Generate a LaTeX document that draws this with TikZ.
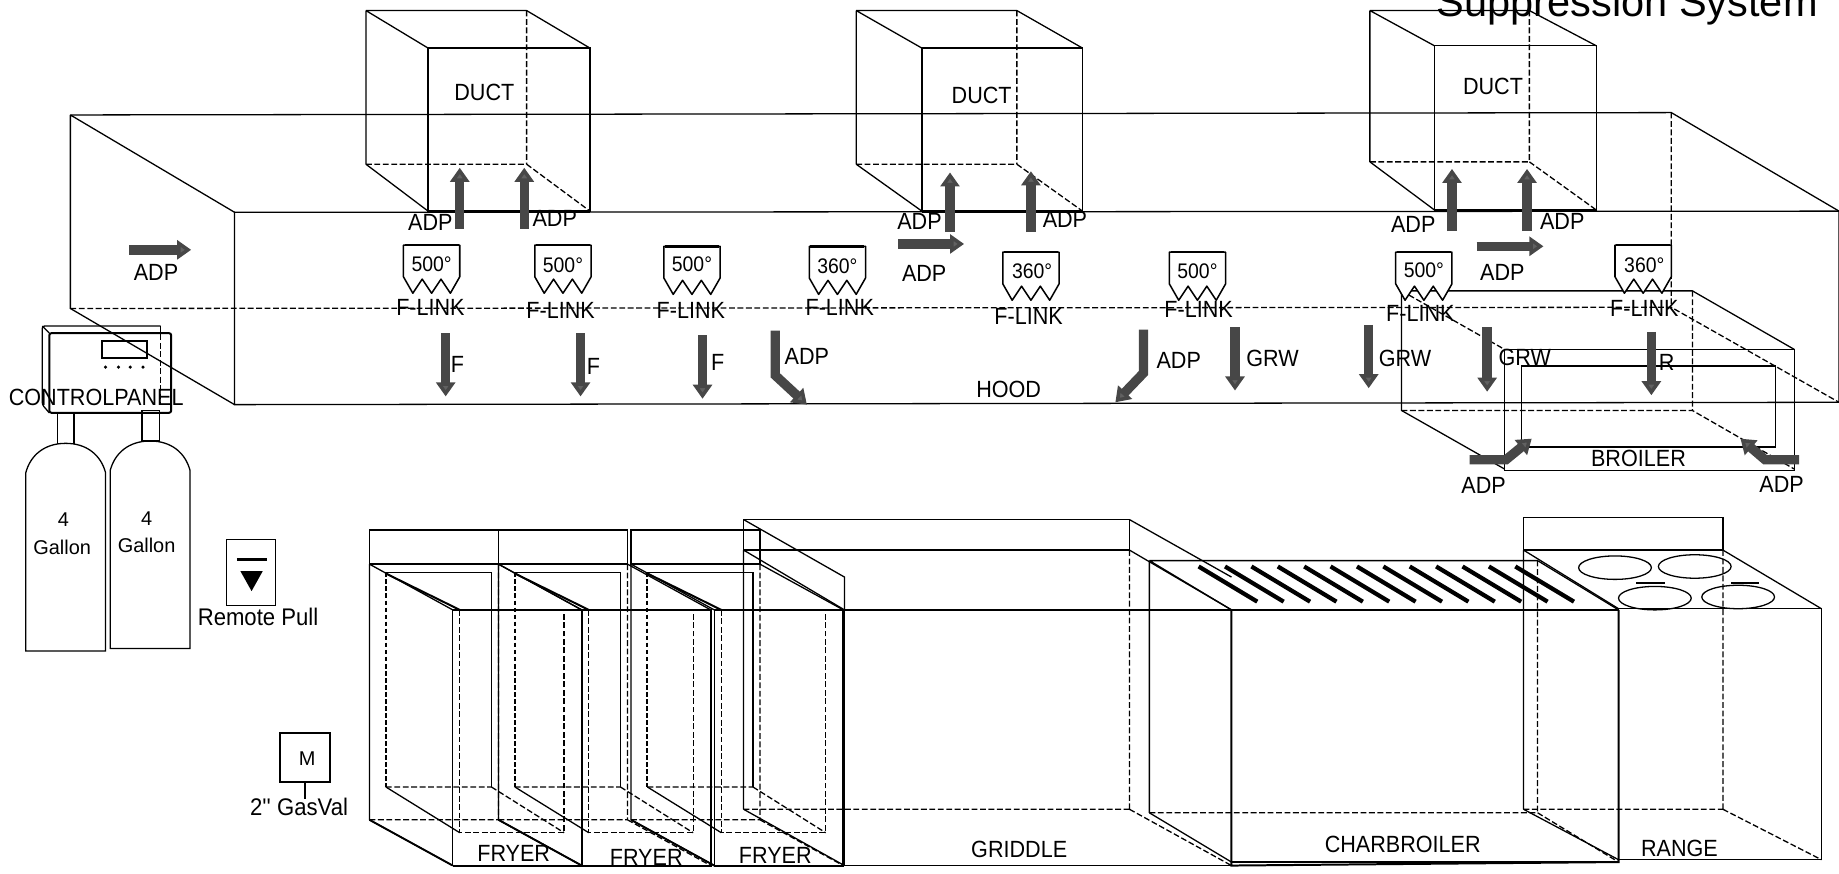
\documentclass[tikz,border=0pt]{standalone}
\usepackage{fontspec}
\usetikzlibrary{arrows.meta}
\setmainfont{Liberation Sans}
\newfontfamily\labfont[FakeStretch=0.92]{Liberation Sans}
\tikzset{
  thinline/.style={draw=black,line width=1.1pt},
  heavyline/.style={draw=black,line width=1.7pt},
  dashline/.style={draw=black,line width=1.1pt,dash pattern=on 5pt off 2.2pt},
  heavydash/.style={draw=black,line width=1.6pt,dash pattern=on 4pt off 2pt},
  flowarrow/.style={draw=black!72,line width=8pt,line join=miter,
    -{Triangle[width=16pt,length=12pt,fill=black!62]}},
  lbl/.style={inner sep=0pt,font=\labfont\fontsize{20}{20}\selectfont},
  smalllbl/.style={inner sep=0pt,font=\labfont\fontsize{20.5}{20.5}\selectfont},
  badge/.style={draw=black,line width=1.3pt,fill=white,line join=round}
}
\newcommand{\threebox}[8]{%
  \draw[thinline] (#1,#2) -- (#3,#2) (#1,#2) -- (#1,#4)
    (#1,#2) -- (#5,#6) (#3,#2) -- (#7,#6) (#1,#4) -- (#5,#8);
  \draw[thinline] (#5,#6) rectangle (#7,#8);
  \draw[dashline] (#3,#2) -- (#3,#4) (#1,#4) -- (#3,#4) (#3,#4) -- (#7,#8);
}
\newcommand{\linkbadge}[6]{%
  \pgfmathsetmacro{\bs}{#2+27}\pgfmathsetmacro{\bz}{#2+41}
  \pgfmathsetmacro{\bu}{#2+29}
  \draw[badge] (#1,#2) -- (#1+48,#2) -- (#1+48,\bs) -- (#1+40,\bz) -- (#1+32,\bu) -- (#1+24,\bz)
    -- (#1+16,\bu) -- (#1+8,\bz) -- (#1,\bs) -- cycle;
  \draw[line width=2.2pt] (#1+1,#2) -- (#1+47,#2);
  \node[lbl,font=\labfont\fontsize{18}{18}\selectfont] (temp#1) at (#3,#4) {\ifnum#1=690 360\else\ifnum#1=855 360\else\ifnum#1=1377 360\else 500\fi\fi\fi°};
  \node[lbl] (flink#1) at (#5,#6) {F-LINK};
}
\newcommand{\fryerunit}[1]{%
  \draw[thinline] (#1,452) rectangle (#1+110,481);
  \threebox{#1}{481}{#1+110}{699}{#1+71}{520}{#1+181}{738}
  \draw[thinline] (#1+14,488) -- (#1+104,488) -- (#1+104,671);
  \draw[heavydash] (#1+14,488) -- (#1+14,671);
  \draw[dashline] (#1+14,671) -- (#1+104,671) (#1+104,671) -- (#1+166,710);
  \draw[thinline] (#1+14,671) -- (#1+77,710);
  \draw[heavyline] (#1+14,489) -- (#1+77,520);
  \draw[dashline] (#1+77,520) -- (#1+77,710) -- (#1+166,710) -- (#1+166,520);
  \draw[heavyline] (#1+71,738) -- (#1+181,738) -- (#1+181,520) -- (#1+71,520);
  \draw[line width=1.6pt] (#1,699) -- (#1+71,738);
}
\begin{document}
\begin{tikzpicture}[x=1pt,y=-1pt]
\useasboundingbox (0,0) rectangle (1568,745);
\clip (0,0) rectangle (1568,745);
% title fragment
\node[inner sep=0pt,anchor=base west,font=\fontsize{35.4}{36}\selectfont] (title) at (1225,14) {Suppression System};
% hood
\draw[thinline] (60,98) -- (1425,96) -- (1568,180);
\draw[thinline] (60,98) -- (60,263) -- (200,345) (60,98) -- (200,181);
\draw[thinline] (200,181) -- (1568,180) -- (1568,343) -- (200,345) -- cycle;
\draw[dashline] (60,263) -- (1425,262) -- (1568,343) (1425,96) -- (1425,262);
% ducts
\threebox{312}{9}{449}{140}{365}{41}{503}{180}
\threebox{730}{9}{867}{140}{786}{41}{923}{180}
\threebox{1168}{9}{1304}{138}{1223}{39}{1361}{179}
\draw[line width=2.4pt] (365,180) -- (503,180) (786,180) -- (923,180) (1223,179) -- (1361,179);
\node[lbl] (duct1) at (413,79) {DUCT};
\node[lbl] (duct2) at (837,81) {DUCT};
\node[lbl] (duct3) at (1273,74) {DUCT};
% broiler
\draw[thinline] (1195,248) -- (1443,248) -- (1530,298) (1195,248) -- (1195,350) -- (1283,400);
\draw[dashline] (1195,248) -- (1283,298) (1443,248) -- (1443,350) (1195,350) -- (1443,350) -- (1530,400);
\draw[thinline] (1283,298) rectangle (1530,401);
\draw[thinline] (1297,312) rectangle (1514,381);
\node[lbl] (broiler) at (1397,391) {BROILER};
% badges
\linkbadge{344}{209}{368}{225}{367}{262}
\linkbadge{456}{209}{480}{226}{478}{265}
\linkbadge{566}{210}{590}{225}{589}{265}
\linkbadge{690}{210}{714}{227}{716}{262}
\linkbadge{855}{215}{880}{231}{877}{270}
\linkbadge{997}{215}{1021}{231}{1022}{264}
\linkbadge{1190}{215}{1214}{230}{1211}{267}
\linkbadge{1377}{209}{1402}{226}{1402}{263}
% arrows
\foreach \ax/\ay/\bx/\by in {392/195/392/143,447/195/447/143,810/198/810/147,879/198/879/146,1238/197/1238/144,1302/197/1302/144,
  110/213/163/213,766/208/822/208,1259/210/1316/210,
  380/284/380/338,495/284/495/338,599/286/599/340,1053/279/1053/333,1167/277/1167/331,1268/279/1268/334,1408/283/1408/337}
  \draw[flowarrow] (\ax,\ay) -- (\bx,\by);
\draw[flowarrow] (661,282) -- (661,320) -- (688,345);
\draw[flowarrow] (975,281) -- (975,318) -- (951,343);
\draw[flowarrow] (1253,392) -- (1284,392) -- (1306,374);
\draw[flowarrow] (1534,392) -- (1505,392) -- (1484,374);
% arrow labels
\foreach \n/\px/\py in {a/367/190,b/473/186,c/133/232,d/784/189,e/908/187,f/788/233,g/1205/191,h/1332/189,i/1281/232,j/1265/414,k/1519/413,l/688/304,m/1005/307}
  \node[lbl] (adp\n) at (\px,\py) {ADP};
\foreach \n/\px/\py in {a/390/311,b/506/312,c/612/309}
  \node[lbl] (fuse\n) at (\px,\py) {F};
\foreach \n/\px/\py in {a/1085/306,b/1198/306,c/1300/305}
  \node[lbl] (grw\n) at (\px,\py) {GRW};
\node[lbl] (rlabel) at (1421,309) {R};
\node[lbl] (hood) at (860,332) {HOOD};
% control panel
\draw[thinline,rounded corners=2pt] (137,278) -- (36,278) -- (36,345) -- (42,352);
\draw[thinline] (36,278) -- (42,284);
\draw[dashline] (137,278) -- (137,345);
\draw[heavyline,rounded corners=2pt] (42,284) rectangle (146,352);
\draw[heavyline] (87,291) rectangle (125,305);
\foreach \dx in {90,101,111,122} \fill (\dx,313) circle (1.5pt);
\node[lbl] (panel) at (82,339) {CONTROLPANEL};
% cylinders
\draw[thinline] (49,352) rectangle (63,378) (121,350) rectangle (136,376);
\draw[thinline] (22,555) -- (22,403) .. controls (26,388) and (38,378) .. (56,378) .. controls (74,378) and (86,388) .. (90,403) -- (90,555) -- cycle;
\draw[thinline] (94,553) -- (94,401) .. controls (98,386) and (110,376) .. (128,376) .. controls (146,376) and (158,386) .. (162,401) -- (162,553) -- cycle;
\node[inner sep=0pt,font=\fontsize{17}{17}\selectfont] (fourA) at (54,443) {4};
\node[inner sep=0pt,font=\fontsize{17}{17}\selectfont] (galA) at (53,467) {Gallon};
\node[inner sep=0pt,font=\fontsize{17}{17}\selectfont] (fourB) at (125,442) {4};
\node[inner sep=0pt,font=\fontsize{17}{17}\selectfont] (galB) at (125,465) {Gallon};
% remote pull
\draw[thinline] (193,460) rectangle (235,516);
\draw[line width=2.6pt] (202,477) -- (228,477);
\fill (205,487) -- (224,487) -- (214.5,504) -- cycle;
\node[smalllbl] (remote) at (220,526) {Remote Pull};
% gas valve
\draw[heavyline] (239,625) rectangle (281,667);
\node[inner sep=0pt,font=\fontsize{17}{17}\selectfont] (mlabel) at (262,647) {M};
\draw[thinline] (260,667) -- (260,681);
\node[smalllbl] (gasval) at (255,688) {2'' GasVal};
% appliances
\fryerunit{315}
\fryerunit{425}
\fryerunit{538}
% griddle
\draw[thinline] (634,443) rectangle (963,469);
\threebox{634}{469}{963}{690}{720}{520}{1050}{738}
\draw[thinline] (634,443) -- (720,492) -- (720,520);
\draw[thinline] (963,443) -- (1050,492);
\draw[heavyline] (720,520) -- (1050,520);
% charbroiler
\threebox{980}{478}{1311}{693}{1050}{520}{1380}{735}
\draw[heavyline] (1050,520) -- (1050,738) -- (1380,735) -- (1380,520);
\foreach \hi in {0,...,12}
  \draw[line width=3.6pt] ({1022+22.5*\hi},483) -- ({1072+22.5*\hi},513);
% range
\draw[thinline] (1299,441) rectangle (1469,469);
\threebox{1299}{469}{1469}{690}{1380}{519}{1553}{733}
\foreach \ox/\oy in {1377/484,1445/483,1411/510,1482/509}
  \draw[thinline] (\ox,\oy) ellipse (31pt and 10pt);
\draw[line width=2.2pt] (1395,497) -- (1420,497) (1476,497) -- (1500,497);
% appliance labels
\node[lbl] (fry1) at (438,728) {FRYER};
\node[lbl] (fry2) at (551,731) {FRYER};
\node[lbl] (fry3) at (661,729) {FRYER};
\node[lbl] (griddle) at (869,724) {GRIDDLE};
\node[lbl] (charb) at (1196,720) {CHARBROILER};
\node[lbl] (range) at (1432,723) {RANGE};
\end{tikzpicture}
\end{document}
